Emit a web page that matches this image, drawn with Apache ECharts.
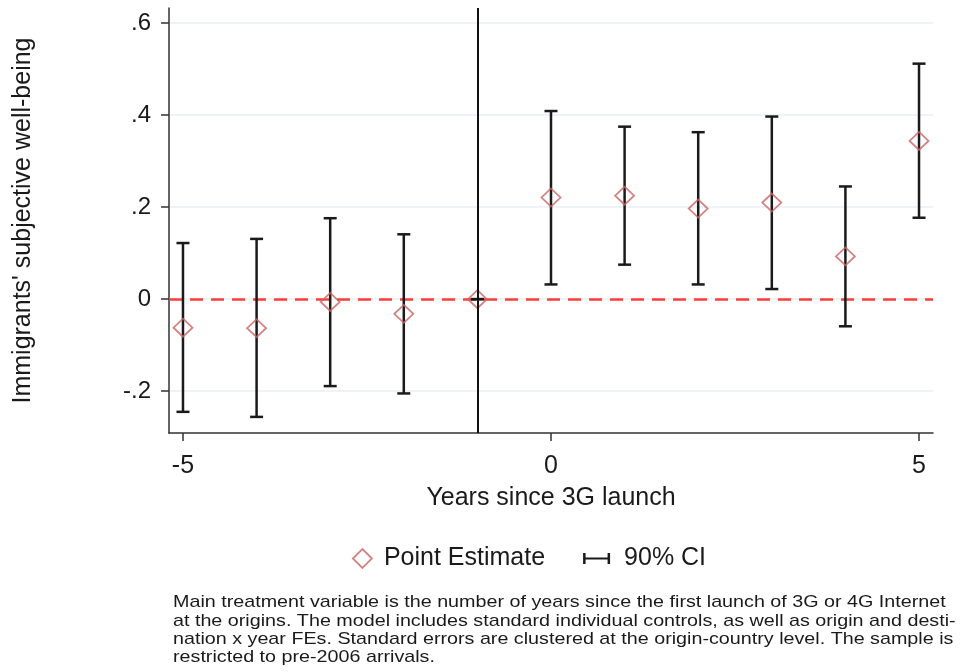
<!DOCTYPE html>
<html>
<head>
<meta charset="utf-8">
<script src="https://cdn.jsdelivr.net/npm/echarts@6/dist/echarts.min.js"></script>
<style>
html,body{margin:0;padding:0;background:#fff;}
#chart{width:961px;height:672px;}
</style>
</head>
<body>
<div id="chart"></div>
<script>
var years = [-5, -4, -3, -2, -1, 0, 1, 2, 3, 4, 5];
var estimate = [-0.062, -0.063, -0.006, -0.032, 0, 0.221, 0.225, 0.197, 0.210, 0.093, 0.344];
var ciLow = [-0.245, -0.256, -0.189, -0.205, 0, 0.032, 0.075, 0.032, 0.022, -0.059, 0.177];
var ciHigh = [0.122, 0.131, 0.176, 0.141, 0, 0.409, 0.375, 0.363, 0.397, 0.245, 0.512];
var xTicks = [-5, 0, 5];
var yTicks = [-0.2, 0, 0.2, 0.4, 0.6];
var yTitle = "Immigrants' subjective well-being";
var xTitle = "Years since 3G launch";
var noteLines = [
  "Main treatment variable is the number of years since the first launch of 3G or 4G Internet",
  "at the origins. The model includes standard individual controls, as well as origin and desti-",
  "nation x year FEs. Standard errors are clustered at the origin-country level. The sample is",
  "restricted to pre-2006 arrivals."
];

var FONT = "'Liberation Sans', Arial, sans-serif";
var chart = echarts.init(document.getElementById('chart'));

var ciData = years.map(function (y, i) { return [y, ciLow[i], ciHigh[i]]; });
var estData = years.map(function (y, i) { return [y, estimate[i]]; });

function yFmt(v) {
  if (Math.abs(v) < 1e-9) return '0';
  return v.toFixed(1).replace('0.', '.');
}

var option = {
  backgroundColor: '#ffffff',
  animation: false,
  textStyle: { fontFamily: FONT },
  grid: { left: 169, right: 28, top: 8, bottom: 239 },
  xAxis: {
    type: 'value', min: -5.19, max: 5.19,
    name: xTitle, nameLocation: 'middle', nameGap: 53,
    nameTextStyle: { fontSize: 25, color: '#1a1a1a', fontFamily: FONT },
    axisLine: { show: true, onZero: false, lineStyle: { color: '#333', width: 1.5 } },
    axisTick: { show: true, length: 8, customValues: xTicks, lineStyle: { color: '#333', width: 1.5 } },
    axisLabel: { customValues: xTicks, fontSize: 25, color: '#1a1a1a', margin: 21, fontFamily: FONT },
    splitLine: { show: false }
  },
  yAxis: {
    type: 'value', min: -0.291, max: 0.633,
    name: yTitle, nameLocation: 'middle', nameGap: 133, nameRotate: 90,
    nameTextStyle: { fontSize: 25, color: '#1a1a1a', fontFamily: FONT },
    axisLine: { show: true, onZero: false, lineStyle: { color: '#333', width: 1.5 } },
    axisTick: { show: true, length: 8, customValues: yTicks, lineStyle: { color: '#333', width: 1.5 } },
    axisLabel: { customValues: yTicks, fontSize: 24, color: '#1a1a1a', margin: 18, formatter: yFmt, fontFamily: FONT },
    splitLine: { show: true, lineStyle: { color: '#e8f0f2', width: 1.5 } }
  },
  legend: {
    top: 541, left: 347,
    itemGap: 38, itemWidth: 27, itemHeight: 19,
    textStyle: { fontSize: 25, color: '#1a1a1a', fontFamily: FONT },
    data: [
      { name: 'Point Estimate', icon: 'path://M9,0L18,9L9,18L0,9Z',
        itemStyle: { color: 'rgba(0,0,0,0)', borderColor: '#c96464', borderWidth: 1.8 },
        textStyle: { padding: [0, 0, 0, 3] } },
      { name: '90% CI', icon: 'path://M0,0h2.5v11h-2.5z M2.5,4.5h22v2h-22z M24.5,0h2.5v11h-2.5z',
        itemStyle: { color: '#1a1a1a', borderWidth: 0 },
        textStyle: { padding: [0, 0, 0, 9] } }
    ]
  },
  graphic: noteLines.map(function (t, i) {
    return {
      type: 'text', left: 173, top: 594 + i * 18.4,
      scaleX: 1.16,
      style: { text: t, fontSize: 17, fill: '#1a1a1a', fontFamily: FONT }
    };
  }),
  series: [
    {
      name: '90% CI', type: 'custom', data: ciData, z: 3,
      renderItem: function (params, api) {
        var x = api.value(0);
        var lo = api.coord([x, api.value(1)]);
        var hi = api.coord([x, api.value(2)]);
        var hw = 6.5;
        var st = { stroke: '#1a1a1a', lineWidth: 2.5 };
        return {
          type: 'group',
          children: [
            { type: 'line', shape: { x1: lo[0], y1: lo[1], x2: hi[0], y2: hi[1] }, style: st },
            { type: 'line', shape: { x1: lo[0] - hw, y1: lo[1], x2: lo[0] + hw, y2: lo[1] }, style: st },
            { type: 'line', shape: { x1: hi[0] - hw, y1: hi[1], x2: hi[0] + hw, y2: hi[1] }, style: st }
          ]
        };
      },
      encode: { x: 0, y: [1, 2] },
      markLine: {
        silent: true, symbol: 'none', label: { show: false },
        lineStyle: { color: '#111', width: 2, type: 'solid' },
        data: [{ xAxis: -1 }]
      }
    },
    {
      name: 'Point Estimate', type: 'scatter', data: estData, z: 4,
      symbol: 'diamond', symbolSize: [19, 18],
      itemStyle: { color: 'rgba(0,0,0,0)', borderColor: '#c96464', borderWidth: 1.8 },
      markLine: {
        silent: true, symbol: 'none', label: { show: false }, z: 2,
        lineStyle: { color: '#ff3b3b', width: 2.5, type: [13, 8] },
        data: [{ yAxis: 0 }]
      }
    }
  ]
};
chart.setOption(option);
</script>
</body>
</html>
